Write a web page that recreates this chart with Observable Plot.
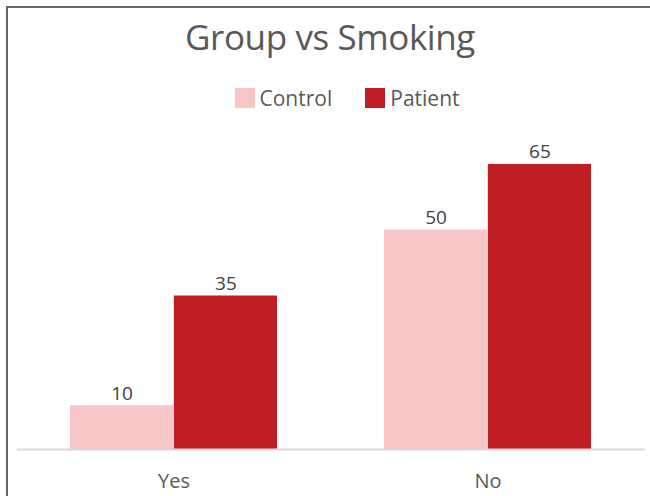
<!DOCTYPE html>
<html>
<head>
<meta charset="utf-8">
<script src="https://cdn.jsdelivr.net/npm/d3@7"></script>
<script src="https://cdn.jsdelivr.net/npm/@observablehq/plot@0.6"></script>
<style>
  html, body { margin: 0; padding: 0; background: #fff; }
  #wrap { position: relative; width: 650px; height: 496px; overflow: hidden; background: #fff; font-family: "Open Sans", sans-serif; }
  #frame { position: absolute; left: 6px; top: 6px; width: 800px; height: 800px; border-left: 2px solid #666; border-top: 2px solid #666; box-sizing: border-box; }
  #title { position: absolute; left: 5px; top: 17px; width: 650px; text-align: center; font-size: 35px; letter-spacing: -0.4px; line-height: 40px; color: #595959; white-space: nowrap; }
  #legend { position: absolute; left: 0; top: 86px; width: 694px; display: flex; justify-content: center; gap: 33px; font-size: 21px; color: #595959; line-height: 24px; }
  .item { display: flex; align-items: center; gap: 5px; }
  .sw { width: 20px; height: 20px; display: inline-block; }
  #chart { position: absolute; left: 0; top: 120px; }
</style>
</head>
<body>
<div id="wrap">
  <div id="frame"></div>
  <div id="title"></div>
  <div id="legend"></div>
  <div id="chart"></div>
</div>
<script>
const titleText = "Group vs Smoking";
const smoking = ["Yes", "No"];
const groups = ["Control", "Patient"];
const controlValues = [10, 50];
const patientValues = [35, 65];
const colors = ["#f8c6c7", "#c01e25"];

const data = smoking.flatMap((s, i) => [
  {smoking: s, group: groups[0], value: controlValues[i]},
  {smoking: s, group: groups[1], value: patientValues[i]}
]);

document.getElementById("title").textContent = titleText;
const legend = document.getElementById("legend");
groups.forEach((g, i) => {
  const item = document.createElement("div");
  item.className = "item";
  const sw = document.createElement("span");
  sw.className = "sw";
  sw.style.background = colors[i];
  const lab = document.createElement("span");
  lab.textContent = g;
  item.appendChild(sw);
  item.appendChild(lab);
  legend.appendChild(item);
});

const W = 650, H = 376, mL = 17, mR = 5;
const pIn = 0.34, pOut = 0.168;
const step = (W - mL - mR) / (smoking.length - pIn + 2 * pOut);
const half = step * (1 - pIn) / 2;

const chart = Plot.plot({
  width: W,
  height: H,
  marginLeft: mL,
  marginRight: mR,
  marginTop: 22,
  marginBottom: 47,
  style: {fontFamily: "'Open Sans', sans-serif", fontSize: "20px", color: "#595959", background: "transparent"},
  x: {domain: smoking, paddingInner: pIn, paddingOuter: pOut, label: null, tickSize: 0, tickPadding: 24},
  y: {domain: [0, 70], axis: null},
  color: {domain: groups, range: colors},
  marks: [
    Plot.barY(data.filter(d => d.group === groups[0]), {x: "smoking", y: "value", fill: "group", insetRight: half}),
    Plot.barY(data.filter(d => d.group === groups[1]), {x: "smoking", y: "value", fill: "group", insetLeft: half}),
    Plot.ruleY([0], {stroke: "#d9d9d9", strokeWidth: 2}),
    Plot.text(data.filter(d => d.group === groups[0]), {x: "smoking", y: "value", text: d => String(d.value), dx: -half / 2, dy: -6, lineAnchor: "bottom", fill: "#404040", fontSize: 19}),
    Plot.text(data.filter(d => d.group === groups[1]), {x: "smoking", y: "value", text: d => String(d.value), dx: half / 2, dy: -6, lineAnchor: "bottom", fill: "#404040", fontSize: 19})
  ]
});
document.getElementById("chart").appendChild(chart);
</script>
</body>
</html>
